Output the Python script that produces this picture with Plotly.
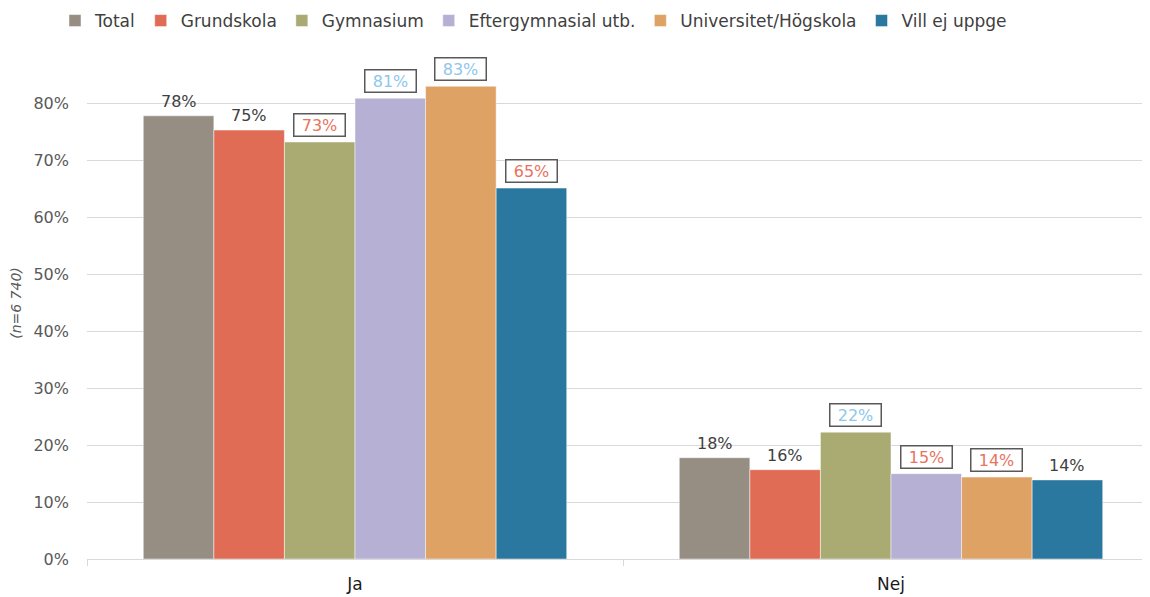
import plotly.graph_objects as go

categories = ["Ja", "Nej"]
series_names = ["Total", "Grundskola", "Gymnasium", "Eftergymnasial utb.", "Universitet/Högskola", "Vill ej uppge"]
values = {
    "Total": [0.779, 0.178],
    "Grundskola": [0.754, 0.157],
    "Gymnasium": [0.733, 0.223],
    "Eftergymnasial utb.": [0.810, 0.150],
    "Universitet/Högskola": [0.831, 0.144],
    "Vill ej uppge": [0.652, 0.139],
}
# significance marker per bar: 0 none, 1 higher (blue), -1 lower (red)
signif = {
    "Total": [0, 0],
    "Grundskola": [0, 0],
    "Gymnasium": [-1, 1],
    "Eftergymnasial utb.": [1, -1],
    "Universitet/Högskola": [1, -1],
    "Vill ej uppge": [-1, 0],
}
colors = ["#968d83", "#e06c55", "#a9ab73", "#b5b0d4", "#dfa265", "#2a779f"]
y_ticks = [0, 0.1, 0.2, 0.3, 0.4, 0.5, 0.6, 0.7, 0.8]
y_title = "(n=6 740)"

FONT = "DejaVu Sans"
W, H = 1150, 597
# page body has an 8px margin, compensate
ml, mr, mt, mb = 79, 0, 39, 46
bargap = 0.21
plot_w = W - ml - mr
cat_px = 536
xrange = [-0.5, -0.5 + plot_w / cat_px]

fig = go.Figure()
for name, col in zip(series_names, colors):
    fig.add_trace(go.Bar(
        name=name, x=categories, y=values[name],
        marker=dict(color=col, line=dict(color="rgba(255,255,255,0.6)", width=0.8)),
    ))

bar_px = cat_px * (1 - bargap) / len(series_names)
n = len(series_names)
for i, name in enumerate(series_names):
    for j, cat in enumerate(categories):
        v = values[name][j]
        s = signif[name][j]
        txt = f"{round(v*100):.0f}%"
        ann = dict(
            x=cat, y=v, xref="x", yref="y", text=txt, showarrow=False,
            xanchor="center", yanchor="bottom",
            xshift=(i - (n - 1) / 2) * bar_px,
            font=dict(family=FONT, size=16, color="#404040"),
        )
        if s != 0:
            ann.update(
                bordercolor="#595959", borderwidth=1.5, borderpad=1, width=48,
                bgcolor="white", yshift=5,
                font=dict(family=FONT, size=16, color="#8ec7ea" if s > 0 else "#e8735e"),
            )
        else:
            ann.update(yshift=3)
        fig.add_annotation(**ann)

fig.update_layout(
    width=W, height=H,
    margin=dict(l=ml, r=mr, t=mt, b=mb, autoexpand=False),
    barmode="group", bargap=bargap, bargroupgap=0,
    plot_bgcolor="white", paper_bgcolor="white",
    font=dict(family=FONT, size=15, color="#404040"),
    legend=dict(
        orientation="h", xref="container", yref="container",
        x=47 / W, xanchor="left", y=1 - 13 / H, yanchor="middle",
        font=dict(family=FONT, size=17, color="#404040"),
        itemwidth=30, tracegroupgap=0,
    ),
    showlegend=True,
)
fig.update_xaxes(
    range=xrange, showgrid=False, automargin=False,
    showline=True, linecolor="#d9d9d9", linewidth=1,
    ticks="outside", tickson="boundaries", ticklen=6, tickcolor="#d9d9d9",
    tickfont=dict(family=FONT, size=17, color="#1a1a1a"),
    ticklabelstandoff=10,
)
fig.update_yaxes(
    range=[0, 0.9], tickvals=y_ticks, tickformat=".0%", automargin=False,
    showgrid=True, gridcolor="#d9d9d9", gridwidth=1, zeroline=False,
    tickfont=dict(family=FONT, size=16, color="#595959"),
    ticks="", ticklen=0, ticklabelstandoff=17,
    title=dict(text=f"<i>{y_title}</i>", font=dict(family=FONT, size=14, color="#595959"), standoff=10),
)
fig.write_html("out.html")
